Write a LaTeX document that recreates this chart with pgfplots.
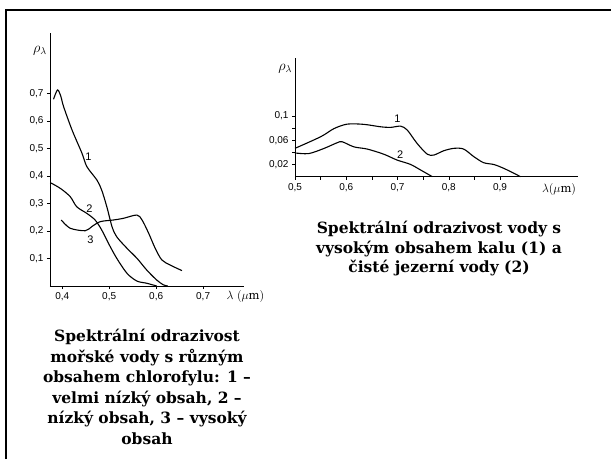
\documentclass[border=0pt]{standalone}
\usepackage{pgfplots}
\pgfplotsset{compat=1.18}
\usepackage{fontspec}
\setmainfont{DejaVu Serif}
\newfontfamily\tickfont{Liberation Sans}
\begin{document}
\begin{tikzpicture}[x=1pt,y=1pt]
\useasboundingbox (0,0) rectangle (611,459);
\fill[white] (0,0) rectangle (611,459);
\draw[line width=2.5pt] (6,0) -- (6,449) -- (611,449);
\pgfplotsset{
  hand/.style={
    scale only axis, axis lines=left, axis line style={-, line width=0.9pt},
    tick style={black, line width=0.6pt}, tick align=outside, major tick length=3pt,
    ticklabel style={font=\tickfont\fontsize{10}{10}\selectfont},
    /pgf/number format/assume math mode=true,
    /pgf/number format/use comma,
    clip=false,
  },
  curve/.style={black, line width=1.1pt, smooth, tension=0.5, no marks},
}
% left chart
\begin{axis}[hand, at={(50pt,173pt)}, anchor=south west,
  width=194pt, height=253pt,
  xmin=0.374, xmax=0.787, ymin=0, ymax=0.92,
  xtick={0.4,0.5,0.6,0.7}, ytick={0.1,0.2,0.3,0.4,0.5,0.6,0.7},
  xticklabel style={/pgf/number format/.cd, fixed, precision=1, zerofill},
  yticklabel style={/pgf/number format/.cd, fixed, precision=1, zerofill},
]
\addplot[curve] coordinates {
(0.3815,0.679) (0.390,0.713) (0.397,0.69) (0.403,0.652) (0.421,0.567)
(0.442,0.483) (0.4525,0.434) (0.474,0.385) (0.484,0.349) (0.495,0.288)
(0.506,0.216) (0.516,0.179) (0.538,0.137) (0.559,0.101) (0.580,0.058)
(0.601,0.022) (0.6155,0.004) (0.625,0.0)};
\addplot[curve] coordinates {
(0.3745,0.376) (0.396,0.355) (0.417,0.325) (0.431,0.288) (0.4525,0.264)
(0.470,0.24) (0.484,0.204) (0.4985,0.155) (0.516,0.101) (0.538,0.046)
(0.559,0.018) (0.580,0.01) (0.601,0.0)};
\addplot[curve] coordinates {
(0.398,0.24) (0.417,0.21) (0.449,0.201) (0.463,0.216) (0.481,0.234)
(0.509,0.24) (0.530,0.246) (0.559,0.258) (0.570,0.24) (0.584,0.192)
(0.598,0.137) (0.612,0.095) (0.630,0.076) (0.655,0.056)};
\node[font=\tickfont\fontsize{11}{11}\selectfont] at (axis cs:0.456,0.47) {1};
\node[font=\tickfont\fontsize{11}{11}\selectfont] at (axis cs:0.458,0.283) {2};
\node[font=\tickfont\fontsize{11}{11}\selectfont] at (axis cs:0.46,0.17) {3};
\node[font=\fontsize{14}{14}\selectfont] at (axis cs:0.3525,0.855) {$\rho_\lambda$};
\node[font=\fontsize{11.5}{12}\selectfont] at (axis cs:0.79,-0.037) {$\lambda\ (\mu\mathrm{m})$};
\end{axis}
% right chart
\begin{axis}[hand, at={(295pt,282.3pt)}, anchor=south west,
  width=283pt, height=118.7pt,
  xmin=0.5, xmax=1.052, ymin=0, ymax=0.195,
  xtick={0.5,0.6,0.7,0.8,0.9}, ytick={0.02,0.06,0.1},
  extra y ticks={0.04,0.08}, extra y tick labels={},
  minor x tick num=1,
  xticklabel style={/pgf/number format/.cd, fixed, precision=1, zerofill},
  yticklabel style={/pgf/number format/.cd, fixed, precision=2},
]
\addplot[curve] coordinates {
(0.5,0.0466) (0.550,0.0656) (0.576,0.079) (0.602,0.0864) (0.634,0.086)
(0.667,0.082) (0.6865,0.081) (0.706,0.083) (0.719,0.0766) (0.738,0.0548)
(0.758,0.037) (0.771,0.0356) (0.790,0.0426) (0.810,0.0466) (0.829,0.0454)
(0.849,0.0328) (0.868,0.023) (0.888,0.020) (0.907,0.0138) (0.927,0.0056)
(0.940,0.0)};
\addplot[curve] coordinates {
(0.5,0.039) (0.527,0.038) (0.557,0.0466) (0.582,0.0557) (0.592,0.0574)
(0.615,0.049) (0.641,0.0454) (0.673,0.037) (0.699,0.0274) (0.725,0.0203)
(0.745,0.011) (0.768,0.0)};
\node[font=\tickfont\fontsize{11}{11}\selectfont] at (axis cs:0.70,0.095) {1};
\node[font=\tickfont\fontsize{11}{11}\selectfont] at (axis cs:0.705,0.036) {2};
\node[font=\fontsize{14}{14}\selectfont] at (axis cs:0.481,0.178) {$\rho_\lambda$};
\node[font=\fontsize{11.5}{12}\selectfont] at (axis cs:1.015,-0.021) {$\lambda(\mu\mathrm{m})$};
\end{axis}
\node[anchor=north, align=center, font=\bfseries\fontsize{15.5}{20.5}\selectfont] at (147,133)
 {Spektrální odrazivost\\mořské vody s různým\\obsahem chlorofylu: 1 --\\velmi nízký obsah, 2 --\\nízký obsah, 3 -- vysoký\\obsah};
\node[anchor=north, align=center, font=\bfseries\fontsize{15.5}{19.5}\selectfont] at (439,241)
 {Spektrální odrazivost vody s\\vysokým obsahem kalu (1) a\\čisté jezerní vody (2)};
\end{tikzpicture}
\end{document}
